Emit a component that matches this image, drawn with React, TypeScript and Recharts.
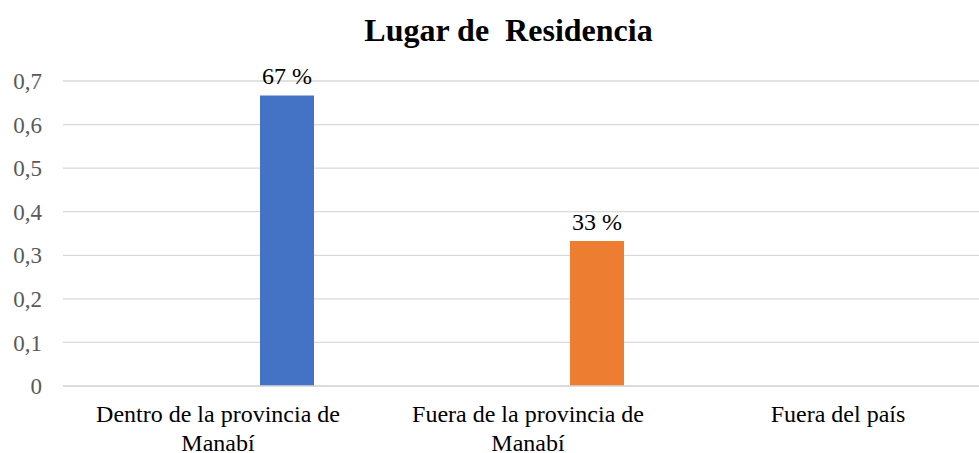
import React from "react";
import { BarChart, Bar, XAxis, YAxis, CartesianGrid, Cell, LabelList, Rectangle } from "recharts";

const categories = [
  "Dentro de la provincia de Manabí",
  "Fuera de la provincia de Manabí",
  "Fuera del país",
];
const categoryLines = [
  ["Dentro de la provincia de", "Manabí"],
  ["Fuera de la provincia de", "Manabí"],
  ["Fuera del país"],
];
const values = [0.667, 0.333, 0];
const barColors = ["#4472C4", "#ED7D31", "#A5A5A5"];
const yTicks = [0, 0.1, 0.2, 0.3, 0.4, 0.5, 0.6, 0.7];
const title = "Lugar de  Residencia";

const data = categories.map((c, i) => ({ name: c, value: values[i] }));

const FONT = "'Liberation Serif', 'Times New Roman', serif";
const BAR_SHIFT = 69;

const OffsetBar = (props: any) => (
  <Rectangle
    x={props.x + BAR_SHIFT}
    y={props.y}
    width={props.width}
    height={props.height}
    fill={props.fill}
  />
);

const XTick = (props: any) => {
  const { x, y, payload } = props;
  const idx = categories.indexOf(payload.value);
  const lines = idx >= 0 ? categoryLines[idx] : [String(payload.value)];
  return (
    <text
      x={x}
      y={y + 28}
      textAnchor="middle"
      fontSize={24}
      fontFamily={FONT}
      fill="#000000"
    >
      {lines.map((l, i) => (
        <tspan key={i} x={x} dy={i === 0 ? 0 : 29}>
          {l}
        </tspan>
      ))}
    </text>
  );
};

const ValueLabel = (props: any) => {
  const { x, y, width, value } = props;
  if (!value) return null;
  return (
    <text
      x={x + width / 2 + BAR_SHIFT}
      y={y - 11}
      textAnchor="middle"
      fontSize={24}
      fontFamily={FONT}
      fill="#000000"
    >
      {Math.round(value * 100)} %
    </text>
  );
};

export default function App() {
  return (
    <div style={{ position: "absolute", left: 0, top: 0, width: 1000, height: 480, background: "#fff" }}>
      <div
        style={{
          position: "absolute",
          left: 0,
          top: 14,
          width: 1017,
          textAlign: "center",
          fontFamily: FONT,
          fontWeight: "bold",
          fontSize: 32,
          lineHeight: "32px",
          color: "#000",
          whiteSpace: "pre",
        }}
      >
        {title}
      </div>
      <BarChart
        width={1000}
        height={480}
        data={data}
        margin={{ top: 81, right: 7, bottom: 0, left: 0 }}
        barSize={54}
      >
        <CartesianGrid vertical={false} stroke="#d9d9d9" strokeWidth={1.3} />
        <XAxis
          dataKey="name"
          axisLine={{ stroke: "#d9d9d9", strokeWidth: 1.3 }}
          tickLine={false}
          interval={0}
          height={94}
          tick={<XTick />}
        />
        <YAxis
          width={63}
          domain={[0, 0.7]}
          ticks={yTicks}
          axisLine={false}
          tickLine={false}
          tickMargin={15}
          tick={{ fontSize: 23, fontFamily: FONT, fill: "#595959" }}
          tickFormatter={(v: number) => String(v).replace(".", ",")}
        />
        <Bar dataKey="value" isAnimationActive={false} shape={<OffsetBar />}>
          {data.map((d, i) => (
            <Cell key={d.name} fill={barColors[i]} />
          ))}
          <LabelList dataKey="value" content={<ValueLabel />} />
        </Bar>
      </BarChart>
    </div>
  );
}
